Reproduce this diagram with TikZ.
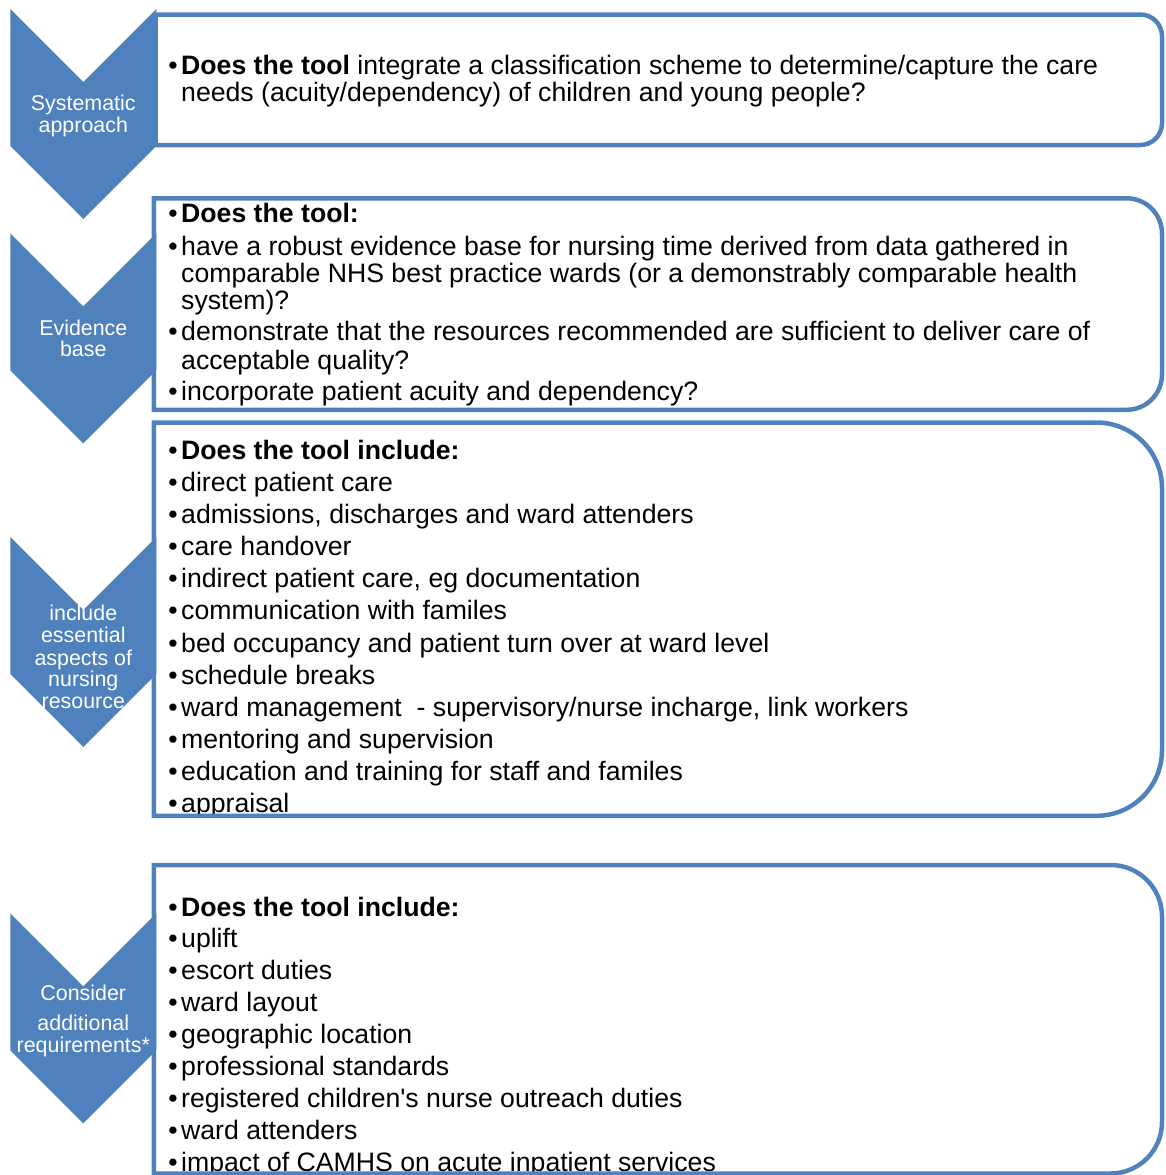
\documentclass[tikz,border=0pt]{standalone}
\usepackage{fontspec}
\setmainfont{Liberation Sans}
\usepackage{tikz}
\usepackage{xcolor}
\usetikzlibrary{calc, positioning}

\definecolor{chevblue}{HTML}{4F81BD}
\newcommand{\itemfont}{\fontsize{26.65}{27.7}\selectfont}
\newcommand{\chevfont}{\fontsize{21.4}{22}\selectfont}
\newcommand{\itembul}{\llap{\textbullet\hspace{3.5pt}}}

\tikzset{
    chevshape/.style={fill=chevblue},
    framebox/.style={draw=chevblue, line width=4.5pt},
    chevlabel/.style={text=white, font=\chevfont, anchor=base, inner sep=0pt},
    itemline/.style={font=\itemfont, anchor=base west, inner sep=0pt}
}

\begin{document}
\begin{tikzpicture}[x=1pt, y=-1pt]
    \useasboundingbox (0, 0) rectangle (1166, 1175);

    % chevrons
    \foreach \t in {9, 233.3, 537, 913.3} {
        \fill[chevshape] (10.3, \t) -- (83.3, \t+73) -- (156.3, \t) -- (156.3, \t+137) -- (83.3, \t+210) -- (10.3, \t+137) -- cycle;
    }
    \node[chevlabel] (sys1) at (83.3, 110.7) {Systematic};
    \node[chevlabel] (sys2) at (83.3, 132.7) {approach};
    \node[chevlabel] (evi1) at (83.3, 335) {Evidence};
    \node[chevlabel] (evi2) at (83.3, 356.7) {base};
    \node[chevlabel] (inc1) at (83.3, 620.7) {include};
    \node[chevlabel] (inc2) at (83.3, 642.7) {essential};
    \node[chevlabel] (inc3) at (83.3, 665) {aspects of};
    \node[chevlabel] (inc4) at (83.3, 686.7) {nursing};
    \node[chevlabel] (inc5) at (83.3, 708.3) {resource};
    \node[chevlabel] (con1) at (83.3, 1000) {Consider};
    \node[chevlabel] (con2) at (83.3, 1030.7) {additional};
    \node[chevlabel] (con3) at (83.3, 1052.3) {requirements*};

    % systematic approach
    \node[itemline] (sa1) at (181, 74) {\itembul\textbf{Does the tool} integrate a classification scheme to determine/capture the care};
    \node[itemline] (sa2) at (181, 101.7) {needs (acuity/dependency) of children and young people?};

    % evidence base
    \node[itemline] (eb1) at (181, 222.7) {\itembul\textbf{Does the tool:}};
    \node[itemline] (eb2) at (181, 255) {\itembul have a robust evidence base for nursing time derived from data gathered in};
    \node[itemline] (eb3) at (181, 282.7) {comparable NHS best practice wards (or a demonstrably comparable health};
    \node[itemline] (eb4) at (181, 309.5) {system)?};
    \node[itemline] (eb5) at (181, 340.7) {\itembul demonstrate that the resources recommended are sufficient to deliver care of};
    \node[itemline] (eb6) at (181, 369.3) {acceptable quality?};
    \node[itemline] (eb7) at (181, 400) {\itembul incorporate patient acuity and dependency?};

    % essential aspects
    \node[itemline] (ea0) at (181, 459.3) {\itembul\textbf{Does the tool include:}};
    \foreach \txt [count=\i] in {direct patient care, {admissions, discharges and ward attenders}, care handover,
        {indirect patient care, eg documentation}, communication with familes,
        bed occupancy and patient turn over at ward level, schedule breaks,
        {ward management \ - supervisory/nurse incharge, link workers}, mentoring and supervision,
        education and training for staff and familes, appraisal} {
        \node[itemline] (ea\i) at (181, 459.3+32.13*\i) {\itembul\txt};
    }

    % additional requirements
    \node[itemline] (ar0) at (181, 916) {\itembul\textbf{Does the tool include:}};
    \foreach \txt [count=\i] in {uplift, escort duties, ward layout, geographic location, professional standards,
        registered children\textquotesingle s nurse outreach duties, ward attenders, impact of CAMHS on acute inpatient services} {
        \node[itemline] (ar\i) at (181, 916+31.96*\i) {\itembul\txt};
    }

    % boxes
    \foreach \l/\top/\bot in {155.7/14.5/145, 153.8/198.3/409.8, 153.8/422.5/815.8, 153.8/865/1173.5} {
        \pgfmathsetmacro{\r}{(\bot-\top)/6}
        \draw[framebox] (\l, \top) -- ({1162-\r}, \top) arc[start angle=-90, end angle=0, radius=\r]
            -- (1162, {\bot-\r}) arc[start angle=0, end angle=90, radius=\r] -- (\l, \bot) -- cycle;
    }
\end{tikzpicture}
\end{document}
